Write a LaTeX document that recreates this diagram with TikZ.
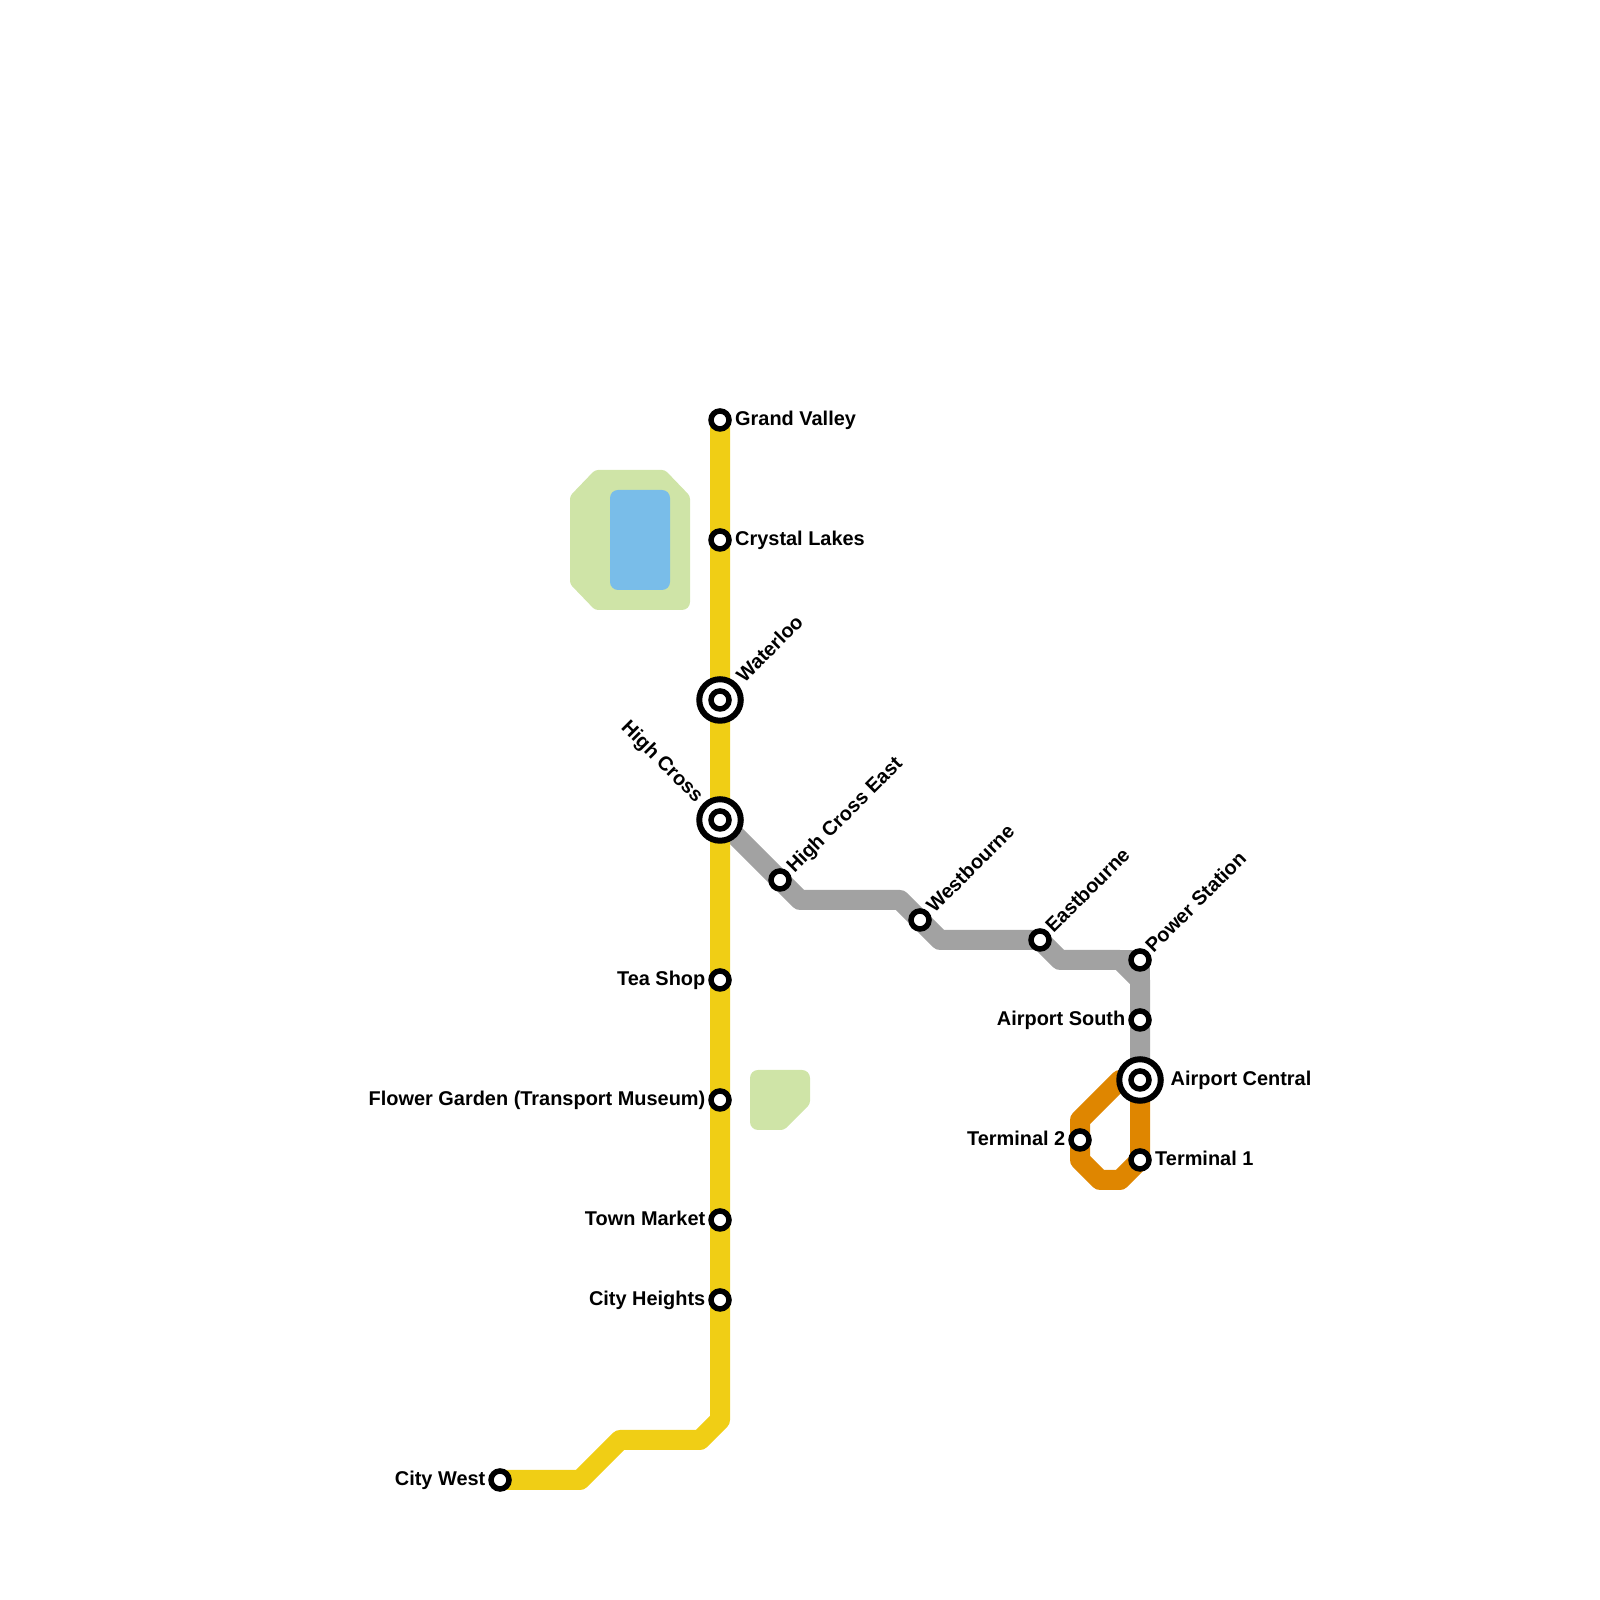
\documentclass[tikz,border=0pt]{standalone}
\usepackage{fontspec}
\setmainfont{Liberation Sans}
\usepackage{xcolor}
\usetikzlibrary{backgrounds}
\definecolor{lineyellow}{HTML}{F0CE15}
\definecolor{linegrey}{HTML}{A2A2A2}
\definecolor{lineorange}{HTML}{DF8600}
\definecolor{parkgreen}{HTML}{CFE4A7}
\definecolor{lakeblue}{HTML}{79BDE9}

\begin{document}
\begin{tikzpicture}[
  stn/.style={circle, draw, fill=white, line width=0.055cm, minimum size=0.18cm, inner sep=0pt, outer sep=0pt},
  interchange/.style={circle, draw, fill=white, line width=0.06cm, minimum size=0.415cm, inner sep=0pt, outer sep=0pt,
                path picture={\draw[line width=0.055cm] (path picture bounding box.center) circle (0.09cm);}},
  route/.style={line width=0.2cm, line join=round},
  lbl/.style={font=\bfseries\fontsize{5.67}{6}\selectfont, inner sep=0pt, text=black},
  lblr/.style={lbl, anchor=base west},
  lbll/.style={lbl, anchor=base east},
  lbld/.style={lbl, anchor=base west, rotate=45},
]
\useasboundingbox (0,0) rectangle (16,16);

% yellow line
\node[stn] (grandvalley)  at (7.2,11.8) {};
\node[stn] (crystal)      at (7.2,10.6) {};
\node[interchange] (waterloo)  at (7.2,9.0) {};
\node[interchange] (highcross) at (7.2,7.8) {};
\node[stn] (teashop)      at (7.2,6.2) {};
\node[stn] (flower)       at (7.2,5.0) {};
\node[stn] (market)       at (7.2,3.8) {};
\node[stn] (heights)      at (7.2,3.0) {};
\node[stn] (citywest)     at (5.0,1.2) {};

% grey line
\node[stn] (hcross-east)  at (7.8,7.2) {};
\node[stn] (westbourne)   at (9.2,6.8) {};
\node[stn] (eastbourne)   at (10.4,6.6) {};
\node[stn] (power)        at (11.4,6.4) {};
\node[stn] (airport-s)    at (11.4,5.8) {};
\node[interchange] (airport-c) at (11.4,5.2) {};

% orange line
\node[stn] (term2)        at (10.8,4.6) {};
\node[stn] (term1)        at (11.4,4.4) {};

% labels
\node[lblr] (l-grandvalley) at (7.345,11.747) {Grand Valley};
\node[lblr] (l-crystal)     at (7.345,10.547) {Crystal Lakes};
\node[lbld] (l-waterloo)    at (7.44,9.16) {Waterloo};
\node[lbl,anchor=base east,rotate=-45] (l-highcross) at (6.96,7.96) {High Cross};
\node[lbll] (l-teashop)     at (7.06,6.147) {Tea Shop};
\node[lbll] (l-flower)      at (7.06,4.947) {Flower Garden (Transport Museum)};
\node[lbll] (l-market)      at (7.06,3.747) {Town Market};
\node[lbll] (l-heights)     at (7.06,2.947) {City Heights};
\node[lbll] (l-citywest)    at (4.86,1.147) {City West};
\node[lbld] (l-hcross-east) at (7.94,7.255) {High Cross East};
\node[lbld] (l-westbourne)  at (9.34,6.855) {Westbourne};
\node[lbld] (l-eastbourne)  at (10.53,6.655) {Eastbourne};
\node[lbld] (l-power)       at (11.53,6.455) {Power Station};
\node[lbll] (l-airport-s)   at (11.26,5.747) {Airport South};
\node[lblr] (l-airport-c)   at (11.7,5.147) {Airport Central};
\node[lbll] (l-term2)       at (10.66,4.547) {Terminal 2};
\node[lblr] (l-term1)       at (11.545,4.347) {Terminal 1};

\begin{scope}[on background layer]
  \fill[parkgreen, rounded corners=0.03cm] (5.7,11.04) -- (5.95,11.3) -- (6.65,11.3) -- (6.9,11.04)
    [rounded corners=0.08cm] -- (6.9,9.9) [rounded corners=0.03cm] -- (5.95,9.9) -- (5.7,10.16) -- cycle;
  \fill[lakeblue, rounded corners=0.08cm] (6.1,11.1) rectangle (6.7,10.1);
  \fill[parkgreen, rounded corners=0.08cm] (7.5,5.3) -- (8.1,5.3) [rounded corners=0.03cm] -- (8.1,4.96) -- (7.84,4.7)
    [rounded corners=0.08cm] -- (7.5,4.7) -- cycle;

  \draw[route, linegrey] (highcross.center) -- (hcross-east.center) -- (8.0,7.0) -- (9.0,7.0)
    -- (westbourne.center) -- (9.4,6.6) -- (10.4,6.6) -- (eastbourne.center) -- (10.6,6.4) -- (11.2,6.4)
    -- (11.4,6.2) -- (airport-s.center) -- (airport-c.center);
  \draw[route, linegrey] (11.2,6.4) -- (power.center) -- (11.4,6.2);
  \draw[route, lineorange] (airport-c.center) -- (11.2,5.2) -- (10.8,4.8) -- (term2.center) -- (10.8,4.4)
    -- (11.0,4.2) -- (11.2,4.2) -- (term1.center) -- cycle;
  \draw[route, lineyellow] (grandvalley.center) -- (crystal.center) -- (waterloo.center) -- (highcross.center)
    -- (teashop.center) -- (flower.center) -- (market.center) -- (heights.center) -- (7.2,1.8) -- (7.0,1.6)
    -- (6.2,1.6) -- (5.8,1.2) -- (citywest.center);
\end{scope}
\end{tikzpicture}
\end{document}
